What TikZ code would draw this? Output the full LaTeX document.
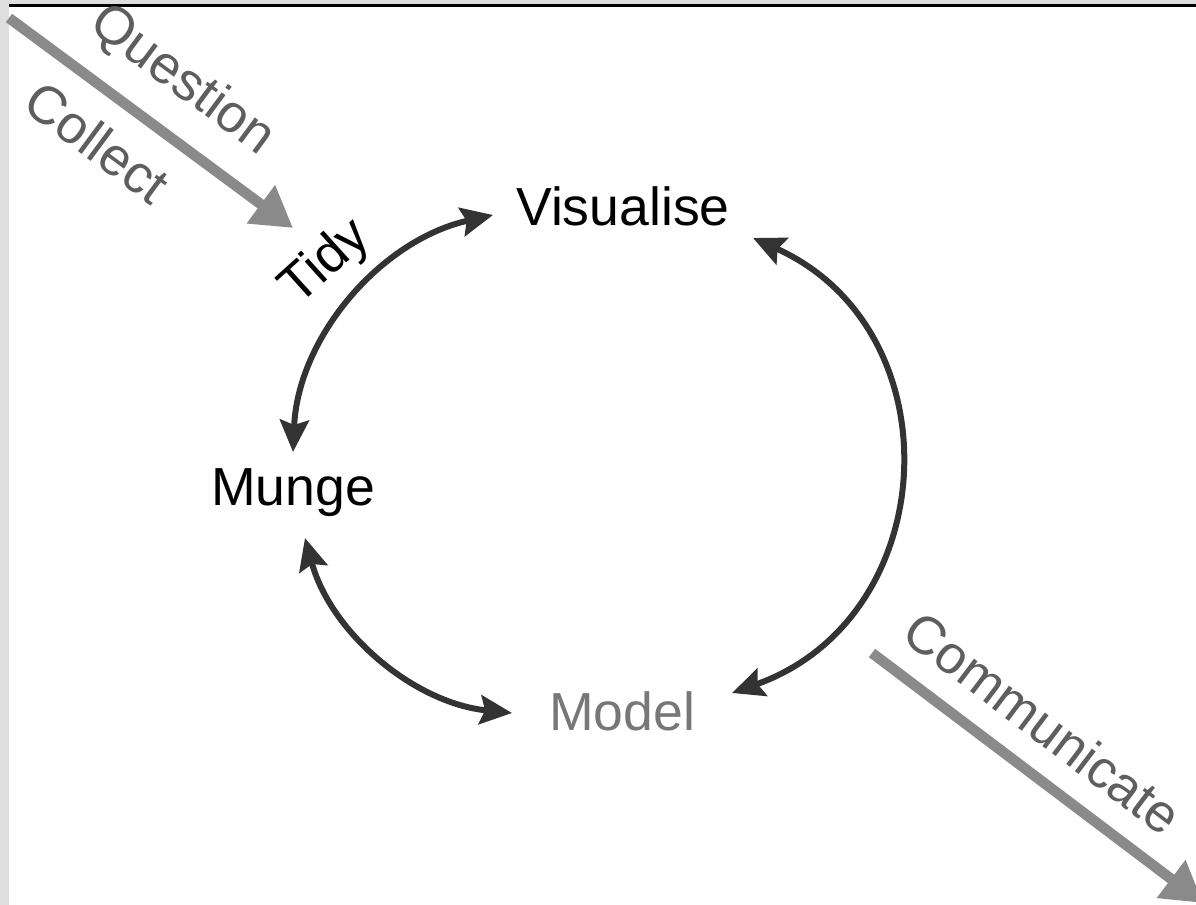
\documentclass[tikz,border=0pt]{standalone}
\usepackage{fontspec}
\setmainfont{Liberation Sans}
\usetikzlibrary{arrows.meta}

\definecolor{arcdark}{HTML}{333333}
\definecolor{flowgray}{HTML}{8A8A8A}
\definecolor{sidegray}{HTML}{5E5E5E}
\definecolor{modelgray}{HTML}{777777}
\definecolor{framegray}{HTML}{DEDEDE}

\begin{document}
\begin{tikzpicture}[x=0.02cm,y=0.02cm,
    every node/.style={font=\fontsize{30.5}{36}\selectfont, inner sep=0pt},
    cyc/.style={arcdark, line width=0.12cm,
      >={Stealth[length=0.64cm,width=0.58cm,inset=0.1cm]}, <->},
    flow/.style={flowgray, line width=0.21cm,
      -{Triangle[length=0.8cm,width=0.9cm]}},
    side/.style={text=sidegray, sloped}]
  \useasboundingbox (0,0) rectangle (1196,-905);
  \fill[framegray] (0,0) rectangle (9,-905);
  \fill[framegray] (9,0) rectangle (1196,-4);
  \fill[black] (9,-4) rectangle (1196,-7);

  \node (vis)   at (623,-206) {Visualise};
  \node (munge) at (293,-493) {Munge};
  \node[text=modelgray] (model) at (622,-711) {Model};
  \node[rotate=42] (tidy) at (326,-263) {Tidy};

  \coordinate (q-in)    at (9,-18);
  \coordinate (q-tip)   at (293,-228);
  \coordinate (c-out)   at (872,-653);
  \coordinate (c-tip)   at (1203,-903);
  \coordinate (v-left)  at (493,-215);
  \coordinate (v-right) at (753,-238);
  \coordinate (m-top)   at (293,-452);
  \coordinate (m-bot)   at (305,-538);
  \coordinate (o-left)  at (512,-713);
  \coordinate (o-right) at (732,-693);

  \draw[flow] (q-in) -- node[side, above=0.45cm] (question) {Question}
    node[side, below=0.45cm, pos=0.41] (collect) {Collect} (q-tip);
  \draw[flow] (c-out) -- node[side, above=0.45cm, pos=0.43] (communicate) {Communicate} (c-tip);

  \draw[cyc] (v-left) .. controls (381,-240) and (298,-337) .. (m-top);
  \draw[cyc] (m-bot) .. controls (331,-633) and (414,-703) .. (o-left);
  \draw[cyc] (v-right) .. controls (957,-330) and (943,-618) .. (o-right);
\end{tikzpicture}
\end{document}
